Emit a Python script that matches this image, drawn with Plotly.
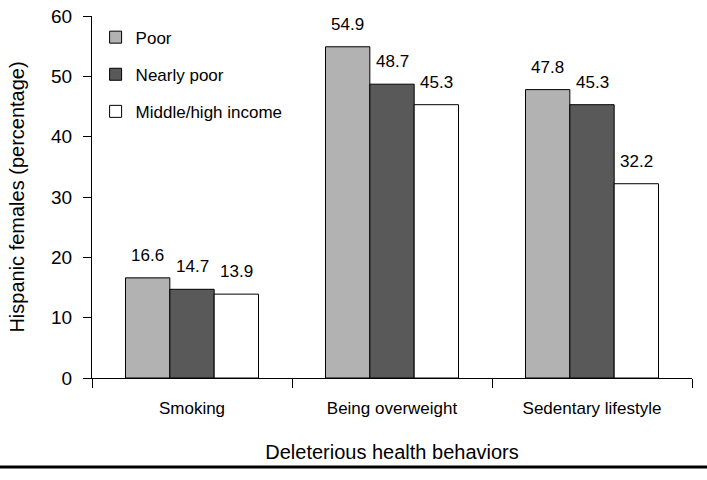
import plotly.graph_objects as go

categories = ["Smoking", "Being overweight", "Sedentary lifestyle"]
series_names = ["Poor", "Nearly poor", "Middle/high income"]
poor = [16.6, 54.9, 47.8]
nearly_poor = [14.7, 48.7, 45.3]
middle_high = [13.9, 45.3, 32.2]
colors = ["#b2b2b2", "#595959", "#ffffff"]
y_ticks = [0, 10, 20, 30, 40, 50, 60]

FONT = "Liberation Sans, Arial, Helvetica, sans-serif"
bargap = 0.335
values = [poor, nearly_poor, middle_high]

fig = go.Figure()
for i, (name, vals, col) in enumerate(zip(series_names, values, colors)):
    fig.add_trace(go.Bar(
        x=categories, y=vals, name=name, legendgroup=name,
        marker=dict(color=col, line=dict(color="black", width=1)),
    ))

# value labels above bars
n = len(values)
w = (1 - bargap) / n
annotations = []
for i, vals in enumerate(values):
    off = (i - (n - 1) / 2) * w
    for j, v in enumerate(vals):
        annotations.append(dict(
            x=j + off, y=v, xref="x", yref="y", text=f"{v:.1f}",
            showarrow=False, yanchor="bottom", yshift=11,
            font=dict(size=17, color="black", family=FONT),
        ))

fig.update_layout(
    width=707, height=480,
    margin=dict(l=92, r=15, t=16, b=102, autoexpand=False),
    paper_bgcolor="white", plot_bgcolor="white",
    barmode="group", bargap=bargap, bargroupgap=0,
    font=dict(family=FONT, size=17, color="black"),
    showlegend=True,
    legend=dict(x=0.006, y=0.99, xanchor="left", yanchor="top",
                bgcolor="rgba(0,0,0,0)", font=dict(size=17),
                traceorder="grouped", tracegroupgap=12,
                itemwidth=30),
    annotations=annotations,
    shapes=[dict(type="line", xref="paper", yref="paper",
                 x0=-92 / 600, x1=(707 - 92) / 600,
                 y0=-89 / 362, y1=-89 / 362,
                 line=dict(color="black", width=3))],
)
fig.update_xaxes(
    type="category", tickson="boundaries", ticks="outside", ticklen=9,
    tickcolor="black", showline=True, linecolor="black", linewidth=1,
    showgrid=False, zeroline=False, ticklabelstandoff=15, automargin=False,
    ticklabeloverflow="allow",
    tickfont=dict(size=17),
    title=dict(text="Deleterious health behaviors", font=dict(size=20), standoff=27),
)
fig.update_yaxes(
    range=[0, 60], tickvals=y_ticks, ticks="outside", ticklen=8, automargin=False,
    ticklabeloverflow="allow",
    tickcolor="black", showline=True, linecolor="black", linewidth=1,
    showgrid=False, zeroline=False, tickfont=dict(size=19), ticklabelstandoff=7,
    title=dict(text="Hispanic females (percentage)", font=dict(size=20), standoff=21),
)
fig.write_html("out.html", config={"displayModeBar": False},
               post_script="document.body.style.margin='0';")
